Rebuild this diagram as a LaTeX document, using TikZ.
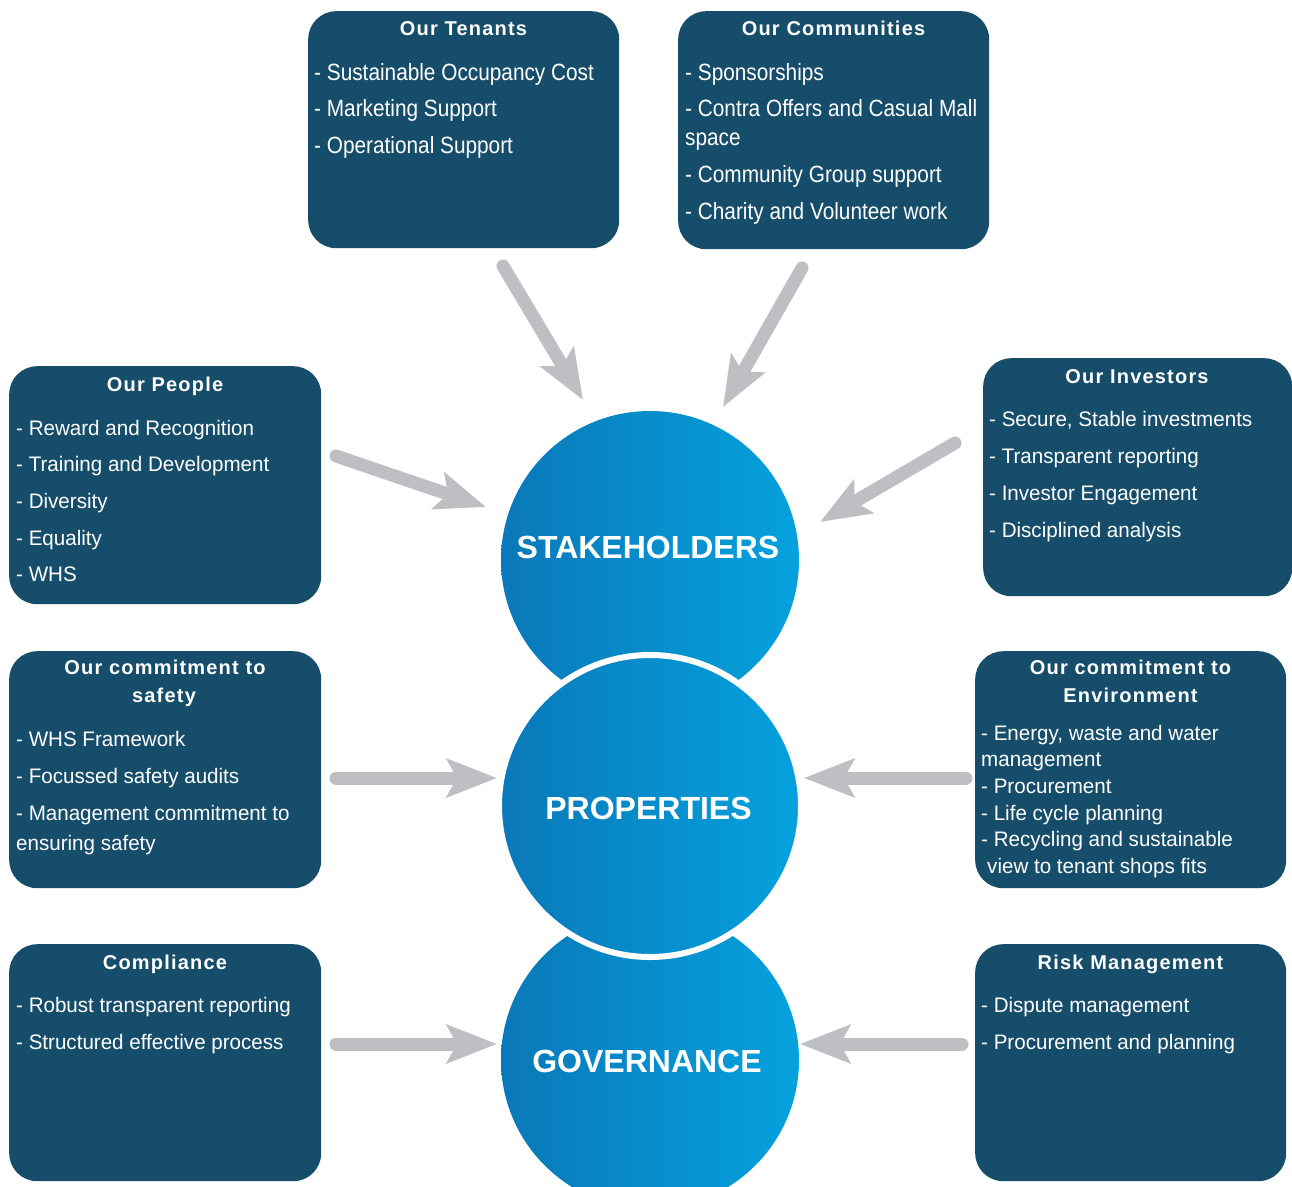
\documentclass[tikz,border=0pt]{standalone}
\usepackage{fontspec}
\setmainfont{Liberation Sans}
\newfontfamily\headfont[LetterSpace=6]{Liberation Sans}
\newfontfamily\listfontA[FakeStretch=0.885]{Liberation Sans}
\newfontfamily\listfontB[FakeStretch=0.98]{Liberation Sans}
\usetikzlibrary{arrows.meta}

\definecolor{boxblue}{RGB}{22,77,106}
\definecolor{ballL}{RGB}{10,120,184}
\definecolor{ballR}{RGB}{5,162,222}
\definecolor{arrowgrey}{RGB}{190,191,195}

\tikzset{
  panel/.style={fill=boxblue, draw=none, rounded corners=28pt, inner sep=0pt,
    anchor=north west},
  head/.style={text=white, font=\headfont\bfseries\fontsize{20}{24}\selectfont,
    anchor=base, inner sep=0pt},
  itemA/.style={text=white, font=\listfontA\fontsize{23.5}{28}\selectfont,
    anchor=base west, inner sep=0pt},
  itemB/.style={text=white, font=\listfontB\fontsize{21}{25}\selectfont,
    anchor=base west, inner sep=0pt},
  ball/.style={circle, inner sep=0pt, minimum size=298pt,
    left color=ballL, right color=ballR},
  balltext/.style={text=white, font=\bfseries\fontsize{32}{38}\selectfont,
    anchor=base, inner sep=0pt},
  feed/.style={draw=arrowgrey, line width=13pt, line cap=round,
    -{Stealth[length=50pt, width=38pt, inset=10pt]}},
}

\begin{document}
\begin{tikzpicture}[x=1pt, y=-1pt]
  \useasboundingbox (0,0) rectangle (1292,1186);
  \clip (0,0) rectangle (1292,1186);

  % ---- central circles ----
  \node[ball] (stake) at (650,560) {};
  \node[ball] (gov) at (650,1060) {};
  \node[ball, minimum size=302pt, draw=white, line width=6pt] (props) at (650,806) {};
  \node[balltext] (stake-label) at (648,558.5) {STAKEHOLDERS};
  \node[balltext] (props-label) at (648.5,819.5) {PROPERTIES};
  \node[balltext] (gov-label) at (647,1072.5) {GOVERNANCE};

  % ---- panels ----
  \node[panel, minimum width=311pt, minimum height=237pt] (tenants) at (308,11) {};
  \node[panel, minimum width=311pt, minimum height=238pt] (comm) at (678,11) {};
  \node[panel, minimum width=312pt, minimum height=238pt] (people) at (9,366) {};
  \node[panel, minimum width=309pt, minimum height=238pt] (invest) at (983,358) {};
  \node[panel, minimum width=312pt, minimum height=237pt] (safety) at (9,651) {};
  \node[panel, minimum width=311pt, minimum height=237pt] (env) at (975,651) {};
  \node[panel, minimum width=312pt, minimum height=237pt] (compl) at (9,944) {};
  \node[panel, minimum width=311pt, minimum height=237pt] (risk) at (975,944) {};

  % ---- Our Tenants ----
  \node[head] (tenants-h) at (463.5,35) {Our Tenants};
  \foreach \txt [count=\i] in {- Sustainable Occupancy Cost, - Marketing Support, - Operational Support}
    \node[itemA] (tenants-\i) at (314,{80+36.5*(\i-1)}) {\txt};

  % ---- Our Communities ----
  \node[head] (comm-h) at (833.5,35) {Our Communities};
  \node[itemA] (comm-1) at (685,80) {- Sponsorships};
  \node[itemA] (comm-2) at (685,116.5) {- Contra Offers and Casual Mall};
  \node[itemA] (comm-3) at (685,145) {space};
  \node[itemA] (comm-4) at (685,182) {- Community Group support};
  \node[itemA] (comm-5) at (685,219) {- Charity and Volunteer work};

  % ---- Our People ----
  \node[head] (people-h) at (165,391) {Our People};
  \foreach \txt [count=\i] in {- Reward and Recognition, - Training and Development, - Diversity, - Equality, - WHS}
    \node[itemB] (people-\i) at (16,{435+36.7*(\i-1)}) {\txt};

  % ---- Our Investors ----
  \node[head] (invest-h) at (1137,383) {Our Investors};
  \foreach \txt [count=\i] in {{- Secure, Stable investments}, - Transparent reporting, - Investor Engagement, - Disciplined analysis}
    \node[itemB] (invest-\i) at (989,{426.5+37*(\i-1)}) {\txt};

  % ---- Our commitment to safety ----
  \node[head] (safety-h1) at (165,674) {Our commitment to};
  \node[head] (safety-h2) at (164,702.7) {safety};
  \node[itemB] (safety-1) at (16,746.5) {- WHS Framework};
  \node[itemB] (safety-2) at (16,783.5) {- Focussed safety audits};
  \node[itemB] (safety-3) at (16,820.5) {- Management commitment to};
  \node[itemB] (safety-4) at (16,850.5) {ensuring safety};

  % ---- Our commitment to Environment ----
  \node[head] (env-h1) at (1130.5,674) {Our commitment to};
  \node[head] (env-h2) at (1130.5,702.7) {Environment};
  \node[itemB] (env-1) at (981,740) {- Energy, waste and water};
  \node[itemB] (env-2) at (981,766.7) {management};
  \node[itemB] (env-3) at (981,793.3) {- Procurement};
  \node[itemB] (env-4) at (981,820) {- Life cycle planning};
  \node[itemB] (env-5) at (981,846.7) {- Recycling and sustainable};
  \node[itemB] (env-6) at (987,873.3) {view to tenant shops fits};

  % ---- Compliance ----
  \node[head] (compl-h) at (165,969) {Compliance};
  \node[itemB] (compl-1) at (16,1012.5) {- Robust transparent reporting};
  \node[itemB] (compl-2) at (16,1049.5) {- Structured effective process};

  % ---- Risk Management ----
  \node[head] (risk-h) at (1130.5,969) {Risk Management};
  \node[itemB] (risk-1) at (981,1012.5) {- Dispute management};
  \node[itemB] (risk-2) at (981,1049.5) {- Procurement and planning};

  % ---- feeding arrows ----
  \coordinate (tenants-out) at (503,266);
  \coordinate (tenants-in)  at (583,400);
  \coordinate (comm-out)    at (802,268);
  \coordinate (comm-in)     at (723,407);
  \coordinate (people-out)  at (336,456);
  \coordinate (people-in)   at (486,507);
  \coordinate (invest-out)  at (955,443);
  \coordinate (invest-in)   at (820,522);
  \coordinate (safety-out)  at (336,778);
  \coordinate (safety-in)   at (497,778);
  \coordinate (env-out)     at (966,778);
  \coordinate (env-in)      at (804,778);
  \coordinate (compl-out)   at (336,1044);
  \coordinate (compl-in)    at (497,1044);
  \coordinate (risk-out)    at (962,1044);
  \coordinate (risk-in)     at (800,1044);

  \draw[feed] (tenants-out) -- (tenants-in);
  \draw[feed] (comm-out) -- (comm-in);
  \draw[feed] (people-out) -- (people-in);
  \draw[feed] (invest-out) -- (invest-in);
  \draw[feed] (safety-out) -- (safety-in);
  \draw[feed] (env-out) -- (env-in);
  \draw[feed] (compl-out) -- (compl-in);
  \draw[feed] (risk-out) -- (risk-in);
\end{tikzpicture}
\end{document}
